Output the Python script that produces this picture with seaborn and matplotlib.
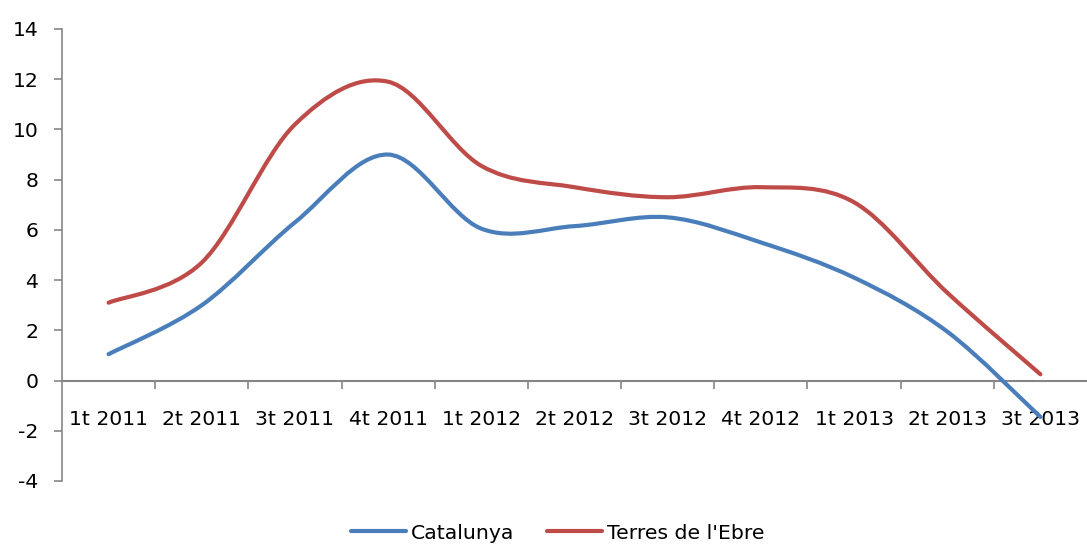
import matplotlib
matplotlib.use("Agg")
import matplotlib.pyplot as plt
from matplotlib.path import Path
from matplotlib.patches import PathPatch
from matplotlib.lines import Line2D
import numpy as np
import pandas as pd
import seaborn as sns

# dades llegides del gràfic
trimestres = ["1t 2011", "2t 2011", "3t 2011", "4t 2011", "1t 2012", "2t 2012",
              "3t 2012", "4t 2012", "1t 2013", "2t 2013", "3t 2013"]
catalunya = [1.05, 3.0, 6.3, 9.0, 6.05, 6.15, 6.5, 5.5, 4.1, 1.95, -1.45]
terres_ebre = [3.1, 4.7, 10.2, 11.9, 8.55, 7.7, 7.3, 7.7, 7.1, 3.5, 0.25]

series = {"Catalunya": catalunya, "Terres de l'Ebre": terres_ebre}
colors = {"Catalunya": "#4A7EBB", "Terres de l'Ebre": "#BE4B48"}

df = pd.DataFrame({"trimestre": trimestres, **series})
df["pos"] = np.arange(len(df))

sns.set_style("white")
plt.rcParams["font.family"] = ["DejaVu Sans"]
plt.rcParams["axes.unicode_minus"] = False
plt.rcParams["text.color"] = "black"
plt.rcParams["xtick.color"] = "black"
plt.rcParams["ytick.color"] = "black"

fig = plt.figure(figsize=(10.87, 5.44), dpi=100)
ax = fig.add_axes([62 / 1087, 63 / 544, 1 - 62 / 1087, (481 - 29) / 544])


def smooth_path(x, y):
    """corba bezier tipus Excel que passa pels punts"""
    pts = np.column_stack([x, y]).astype(float)
    ext = np.vstack([pts[0], pts, pts[-1]])
    verts = [tuple(pts[0])]
    codes = [Path.MOVETO]
    for i in range(len(pts) - 1):
        p0, p1, p2, p3 = ext[i], ext[i + 1], ext[i + 2], ext[i + 3]
        c1 = p1 + (p2 - p0) / 6.0
        c2 = p2 - (p3 - p1) / 6.0
        verts += [tuple(c1), tuple(c2), tuple(p2)]
        codes += [Path.CURVE4] * 3
    return Path(verts, codes)


handles = []
for name in series:
    patch = PathPatch(smooth_path(df["pos"], df[name]), facecolor="none",
                      edgecolor=colors[name], lw=3.0, capstyle="round",
                      joinstyle="round", zorder=3)
    ax.add_patch(patch)
    handles.append(Line2D([], [], color=colors[name], lw=3.0, label=name))

ax.set_xlim(-0.5, len(trimestres) - 0.5)
ax.set_ylim(-4, 14)
ax.set_yticks(np.arange(-4, 15, 2))

grey = "#868686"
for s in ["top", "right"]:
    ax.spines[s].set_visible(False)
ax.spines["left"].set_color(grey)
ax.spines["bottom"].set_color(grey)
ax.spines["left"].set_linewidth(1.2)
ax.spines["bottom"].set_linewidth(1.5)
ax.spines["bottom"].set_position(("data", 0))

ax.set_xticks(np.arange(0.5, len(trimestres) - 0.5, 1))
ax.set_xticklabels([])
ax.set_xticks(df["pos"], minor=True)
ax.set_xticklabels(trimestres, minor=True)
ax.tick_params(axis="x", which="major", bottom=True, direction="out", length=6,
               width=1.2, color=grey)
ax.tick_params(axis="x", which="minor", bottom=True, length=0, pad=21,
               labelsize=14.7, labelcolor="black")
ax.tick_params(axis="y", left=True, direction="out", length=6, width=1.2,
               color=grey, pad=11, labelsize=14.7, labelcolor="black")
ax.grid(False)

fig.legend(handles=handles, loc="center", bbox_to_anchor=(0.513, 0.02),
           ncol=2, frameon=False, fontsize=14.7, handlelength=2.7,
           handletextpad=0.25, columnspacing=1.6, labelcolor="black")

fig.savefig("out.png", dpi=100, facecolor="white")
